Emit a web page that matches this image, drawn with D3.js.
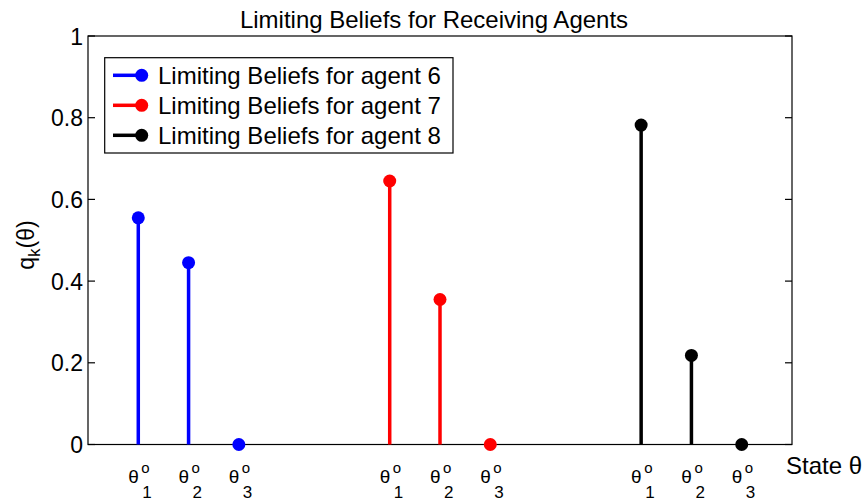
<!DOCTYPE html>
<html>
<head>
<meta charset="utf-8">
<script src="https://cdn.jsdelivr.net/npm/d3@7"></script>
<style>
  html, body { margin: 0; padding: 0; background: #fff; }
  svg { display: block; font-family: "Liberation Sans", Arial, Helvetica, sans-serif; }
</style>
</head>
<body>
<svg id="chart" width="866" height="503"></svg>
<script>
// ---- data ----
const states = ["1", "2", "3"];               // subscripts of θ^o
const agents = ["Limiting Beliefs for agent 6", "Limiting Beliefs for agent 7", "Limiting Beliefs for agent 8"];
const positions = [[1, 2, 3], [6, 7, 8], [11, 12, 13]];
const agent6 = [0.555, 0.445, 0.0];
const agent7 = [0.645, 0.355, 0.0];
const agent8 = [0.782, 0.218, 0.0];
const yTicks = [0, 0.2, 0.4, 0.6, 0.8, 1];
const yTickLabels = ["0", "0.2", "0.4", "0.6", "0.8", "1"];
const colors = ["#0000ff", "#ff0000", "#000000"];
const titleText = "Limiting Beliefs for Receiving Agents";

const series = [agent6, agent7, agent8];

const svg = d3.select("#chart");
const pLeft = 88, pRight = 792, pTop = 36, pBottom = 444.5;

const x = d3.scaleLinear().domain([0, 14]).range([pLeft, pRight]);
const y = d3.scaleLinear().domain([0, 1]).range([pBottom, pTop]);

// axes box
svg.append("rect")
  .attr("x", pLeft).attr("y", pTop)
  .attr("width", pRight - pLeft).attr("height", pBottom - pTop)
  .attr("fill", "none").attr("stroke", "#000").attr("stroke-width", 1.2);

// y ticks (left and right, inward)
const tickLen = 7;
yTicks.forEach((t, i) => {
  svg.append("line").attr("x1", pLeft).attr("x2", pLeft + tickLen)
    .attr("y1", y(t)).attr("y2", y(t)).attr("stroke", "#000").attr("stroke-width", 1.2);
  svg.append("line").attr("x1", pRight).attr("x2", pRight - tickLen)
    .attr("y1", y(t)).attr("y2", y(t)).attr("stroke", "#000").attr("stroke-width", 1.2);
  svg.append("text").attr("x", pLeft - 5).attr("y", y(t) + 8.5)
    .attr("text-anchor", "end").attr("font-size", 23).text(yTickLabels[i]);
});

// x tick labels θ^o_i
positions.forEach(group => {
  group.forEach((p, j) => {
    const px = x(p);
    svg.append("text").attr("x", px + 0.5).attr("y", 483)
      .attr("text-anchor", "end").attr("font-size", 19).text("θ");
    svg.append("text").attr("x", px + 3).attr("y", 472.5)
      .attr("font-size", 15).text("o");
    svg.append("text").attr("x", px + 4).attr("y", 497.5)
      .attr("font-size", 17).text(states[j]);
  });
});

// stems
series.forEach((vals, s) => {
  const g = svg.append("g");
  vals.forEach((v, j) => {
    const px = x(positions[s][j]);
    g.append("line").attr("x1", px).attr("x2", px)
      .attr("y1", y(0)).attr("y2", y(v))
      .attr("stroke", colors[s]).attr("stroke-width", 3.5);
    g.append("circle").attr("cx", px).attr("cy", y(v)).attr("r", 6.5)
      .attr("fill", colors[s]);
  });
});

// title
svg.append("text").attr("x", (pLeft + pRight) / 2 - 6).attr("y", 28)
  .attr("text-anchor", "middle").attr("font-size", 24).text(titleText);

// x label
svg.append("text").attr("x", 786).attr("y", 474)
  .attr("font-size", 24).text("State θ");

// y label
const yl = svg.append("text")
  .attr("transform", "translate(34,245) rotate(-90)")
  .attr("text-anchor", "middle").attr("font-size", 23);
yl.append("tspan").text("q");
yl.append("tspan").attr("font-size", 17).attr("dy", 6).text("k");
yl.append("tspan").attr("dy", -6).text("(θ)");

// legend
const lg = svg.append("g");
lg.append("rect").attr("x", 104.7).attr("y", 57.7)
  .attr("width", 453 - 104.7).attr("height", 153 - 57.7)
  .attr("fill", "#fff").attr("stroke", "#000").attr("stroke-width", 1.2);
agents.forEach((name, i) => {
  const cy = 75.3 + i * 30;
  lg.append("line").attr("x1", 113).attr("x2", 141.7).attr("y1", cy).attr("y2", cy)
    .attr("stroke", colors[i]).attr("stroke-width", 3.5);
  lg.append("circle").attr("cx", 141.7).attr("cy", cy).attr("r", 6.5).attr("fill", colors[i]);
  lg.append("text").attr("x", 158).attr("y", cy + 8.5).attr("font-size", 24).text(name);
});
</script>
</body>
</html>
